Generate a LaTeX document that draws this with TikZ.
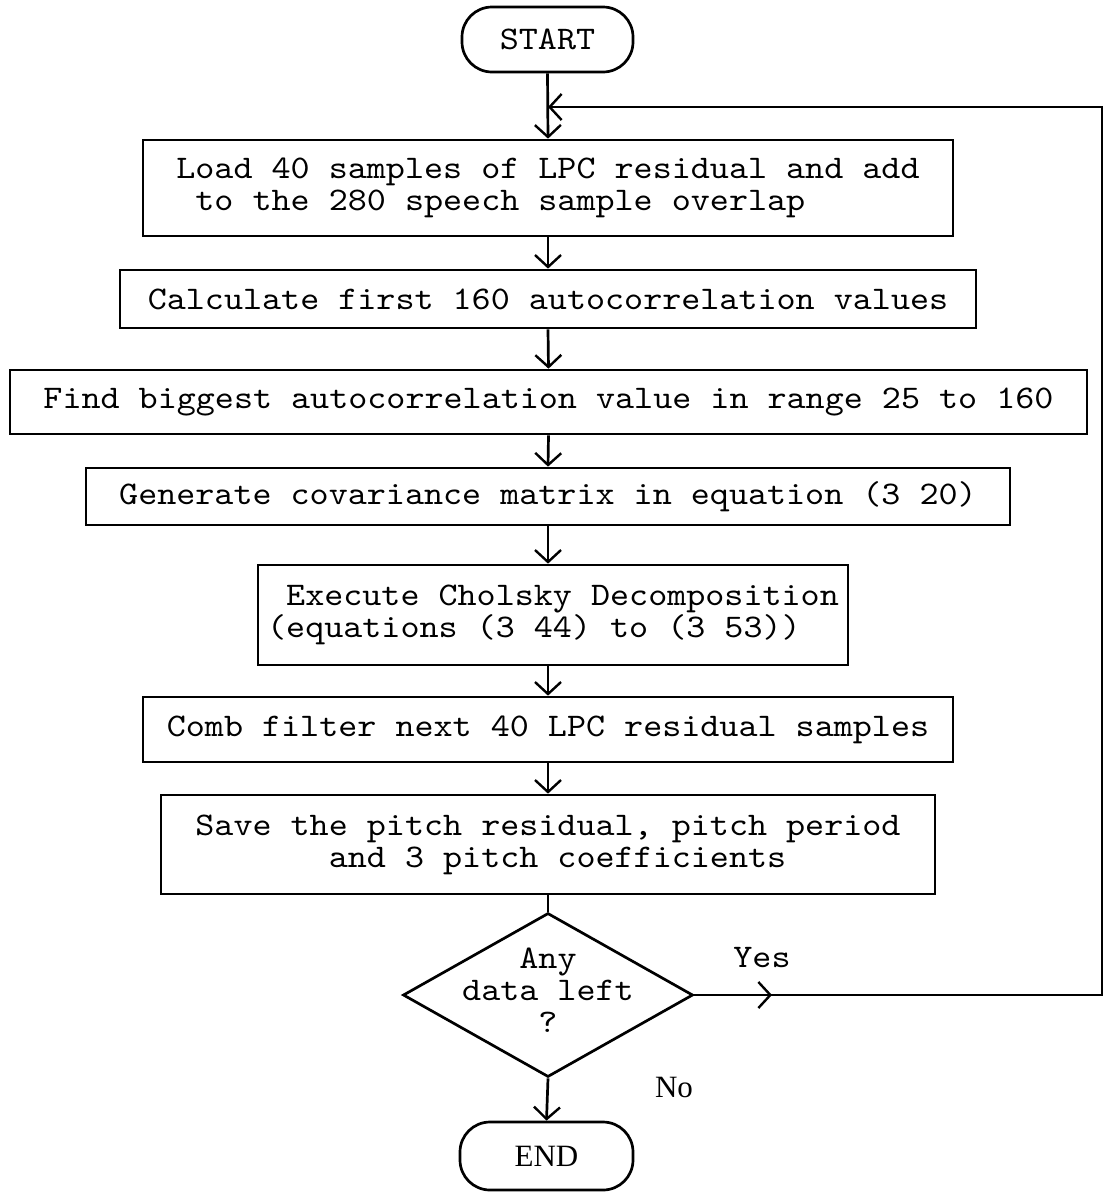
\documentclass[tikz,border=0pt]{standalone}
\usepackage{fontspec}
\setmainfont{Liberation Serif}
\setmonofont{lmmono10-regular.otf}[FakeStretch=1.1]
\usetikzlibrary{shapes.geometric,arrows.meta}
\begin{document}
\begin{tikzpicture}[x=1pt,y=-1pt,line width=2.7pt,
  tt/.style={font=\ttfamily\fontsize{33}{32}\selectfont},
  rm/.style={font=\rmfamily\fontsize{31}{32}\selectfont},
  box/.style={draw,rectangle,inner sep=0pt,align=left,tt},
  term/.style={draw,rectangle,rounded corners=30pt,inner sep=0pt},
  arr/.style={-{Straight Barb[length=12pt,width=26pt,line width=2.4pt]}},
  lbl/.style={inner sep=0pt,tt}]
\useasboundingbox (0,0) rectangle (1103,1192);

\node[term,tt,minimum width=171pt,minimum height=65pt] (start) at (547.5,39.5) {START};
\node[box,minimum width=810pt,minimum height=96pt] (b1) at (548,188)
  {Load 40 samples of LPC residual and add\\\phantom{x}to the 280 speech sample overlap};
\node[box,minimum width=856pt,minimum height=58pt] (b2) at (548,299)
  {Calculate first 160 autocorrelation values};
\node[box,minimum width=1077pt,minimum height=64pt] (b3) at (548.5,402)
  {Find biggest autocorrelation value in range 25 to 160};
\node[box,minimum width=924pt,minimum height=57pt] (b4) at (548,496.5)
  {Generate covariance matrix in equation (3 20)};
\node[box,minimum width=590pt,minimum height=100pt] (b5) at (553,615)
  {\phantom{x}Execute Cholsky Decomposition\\(equations (3 44) to (3 53))};
\node[box,minimum width=810pt,minimum height=65pt] (b6) at (548,729.5)
  {Comb filter next 40 LPC residual samples};
\node[box,minimum width=774pt,minimum height=99pt] (b7) at (548,844.5)
  {Save the pitch residual, pitch period\\\phantom{xxxxxxx}and 3 pitch coefficients};
\node[draw,diamond,aspect=1.77,minimum width=290pt,minimum height=164pt,inner sep=0pt] (dia) at (548,995) {};
\node[lbl,align=center] (dtext) at (548,990) {Any\\data left\\?};
\node[term,rm,minimum width=173pt,minimum height=68pt] (end) at (546.5,1156) {END};
\node[lbl] (yes) at (762,958) {Yes};
\node[inner sep=0pt,rm] (no) at (674,1087) {No};

\coordinate (join) at (548,107);
\coordinate (tr) at (1102,107);
\coordinate (br) at (1102,995);
\coordinate (ymid) at (772,995);

\draw[arr] (start.south) -- (b1.north);
\draw[arr] (b1.south) -- (b2.north);
\draw[arr] (b2.south) -- (b3.north);
\draw[arr] (b3.south) -- (b4.north);
\draw[arr] (b4.south) -- (b4.south |- b5.north);
\draw[arr] (b6.north |- b5.south) -- (b6.north);
\draw[arr] (b6.south) -- (b7.north);
\draw (b7.south) -- (dia.north);
\draw[arr] (dia.south) -- (end.north);
\draw[arr] (dia.east) -- (ymid);
\draw[arr] (dia.east) -- (br) -- (tr) -- (join);
\end{tikzpicture}
\end{document}
